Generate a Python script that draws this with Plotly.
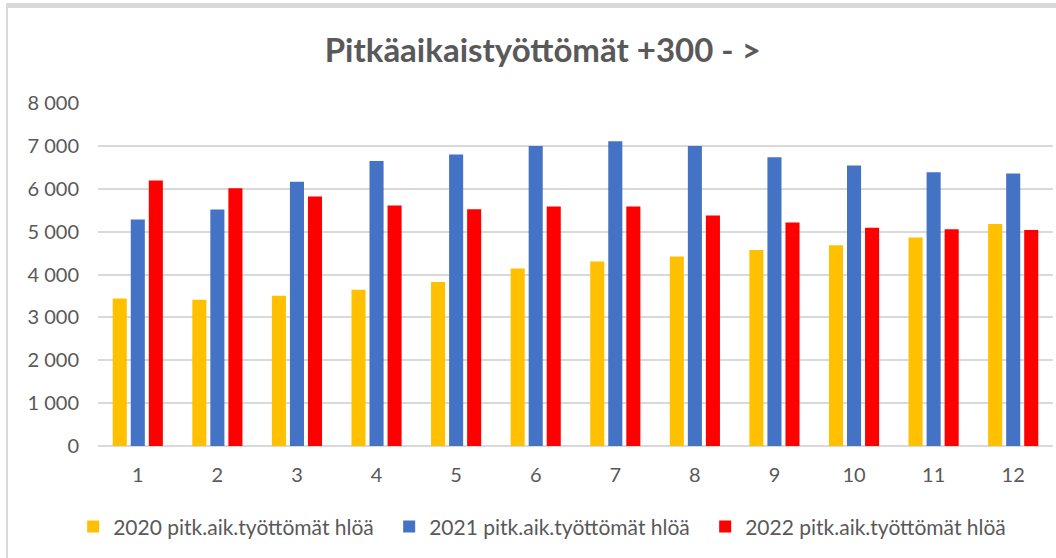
import plotly.graph_objects as go

months = ["1", "2", "3", "4", "5", "6", "7", "8", "9", "10", "11", "12"]
series_names = ["2020 pitk.aik.työttömät hlöä", "2021 pitk.aik.työttömät hlöä", "2022 pitk.aik.työttömät hlöä"]
values_2020 = [3443, 3410, 3503, 3643, 3823, 4142, 4305, 4422, 4569, 4685, 4865, 5175]
values_2021 = [5284, 5517, 6161, 6650, 6799, 7000, 7110, 7000, 6737, 6543, 6387, 6356]
values_2022 = [6193, 6014, 5820, 5610, 5524, 5587, 5587, 5378, 5214, 5089, 5058, 5035]
colors = ["#FFC000", "#4472C4", "#FF0000"]

fig = go.Figure()
for name, vals, col in zip(series_names, [values_2020, values_2021, values_2022], colors):
    fig.add_trace(go.Bar(x=months, y=vals, name=name, marker=dict(color=col, line=dict(width=0))))

font_family = "Lato, 'Open Sans', sans-serif"
fig.update_layout(
    width=1056, height=558,
    margin=dict(l=98, r=3, t=103, b=112, autoexpand=False),
    paper_bgcolor="white", plot_bgcolor="white",
    separators=", ",
    barmode="group", bargap=0.32, bargroupgap=0.22,
    title=dict(text="<b>Pitkäaikaistyöttömät +300 - ></b>", x=0.514, xanchor="center",
               y=0.91, yanchor="middle", yref="container",
               font=dict(family=font_family, size=33, color="#595959")),
    font=dict(family=font_family, color="#595959"),
    showlegend=True,
    legend=dict(orientation="h", x=-0.026, xanchor="left", y=-0.236, yanchor="middle",
                font=dict(family=font_family, size=21, color="#595959"),
                entrywidth=271, entrywidthmode="pixels", itemwidth=30,
                traceorder="normal"),
    xaxis=dict(type="category", showgrid=False, showline=False, ticks="",
               tickfont=dict(family=font_family, size=20, color="#595959"),
               ticklabelstandoff=15),
    yaxis=dict(range=[0, 8000], dtick=1000, tickformat=",d", showgrid=True,
               gridcolor="#d9d9d9", gridwidth=1.5, zeroline=True, zerolinecolor="#d9d9d9",
               zerolinewidth=1.5, showline=False, ticks="",
               tickfont=dict(family=font_family, size=20, color="#595959"),
               ticklabelstandoff=18),
    shapes=[
        dict(type="rect", xref="paper", yref="paper", x0=-0.0963, x1=1.005,
             y0=(446 - 8) / 343, y1=(446 - 3) / 343, fillcolor="#d9d9d9", line=dict(width=0), layer="above"),
        dict(type="rect", xref="paper", yref="paper", x0=-0.0963, x1=-0.0942,
             y0=-0.33, y1=(446 - 3) / 343, fillcolor="#d9d9d9", line=dict(width=0), layer="above"),
    ],
)

fig.write_html("out.html", config={"displayModeBar": False},
               post_script="document.body.style.margin='0px';document.body.style.overflow='hidden';")
